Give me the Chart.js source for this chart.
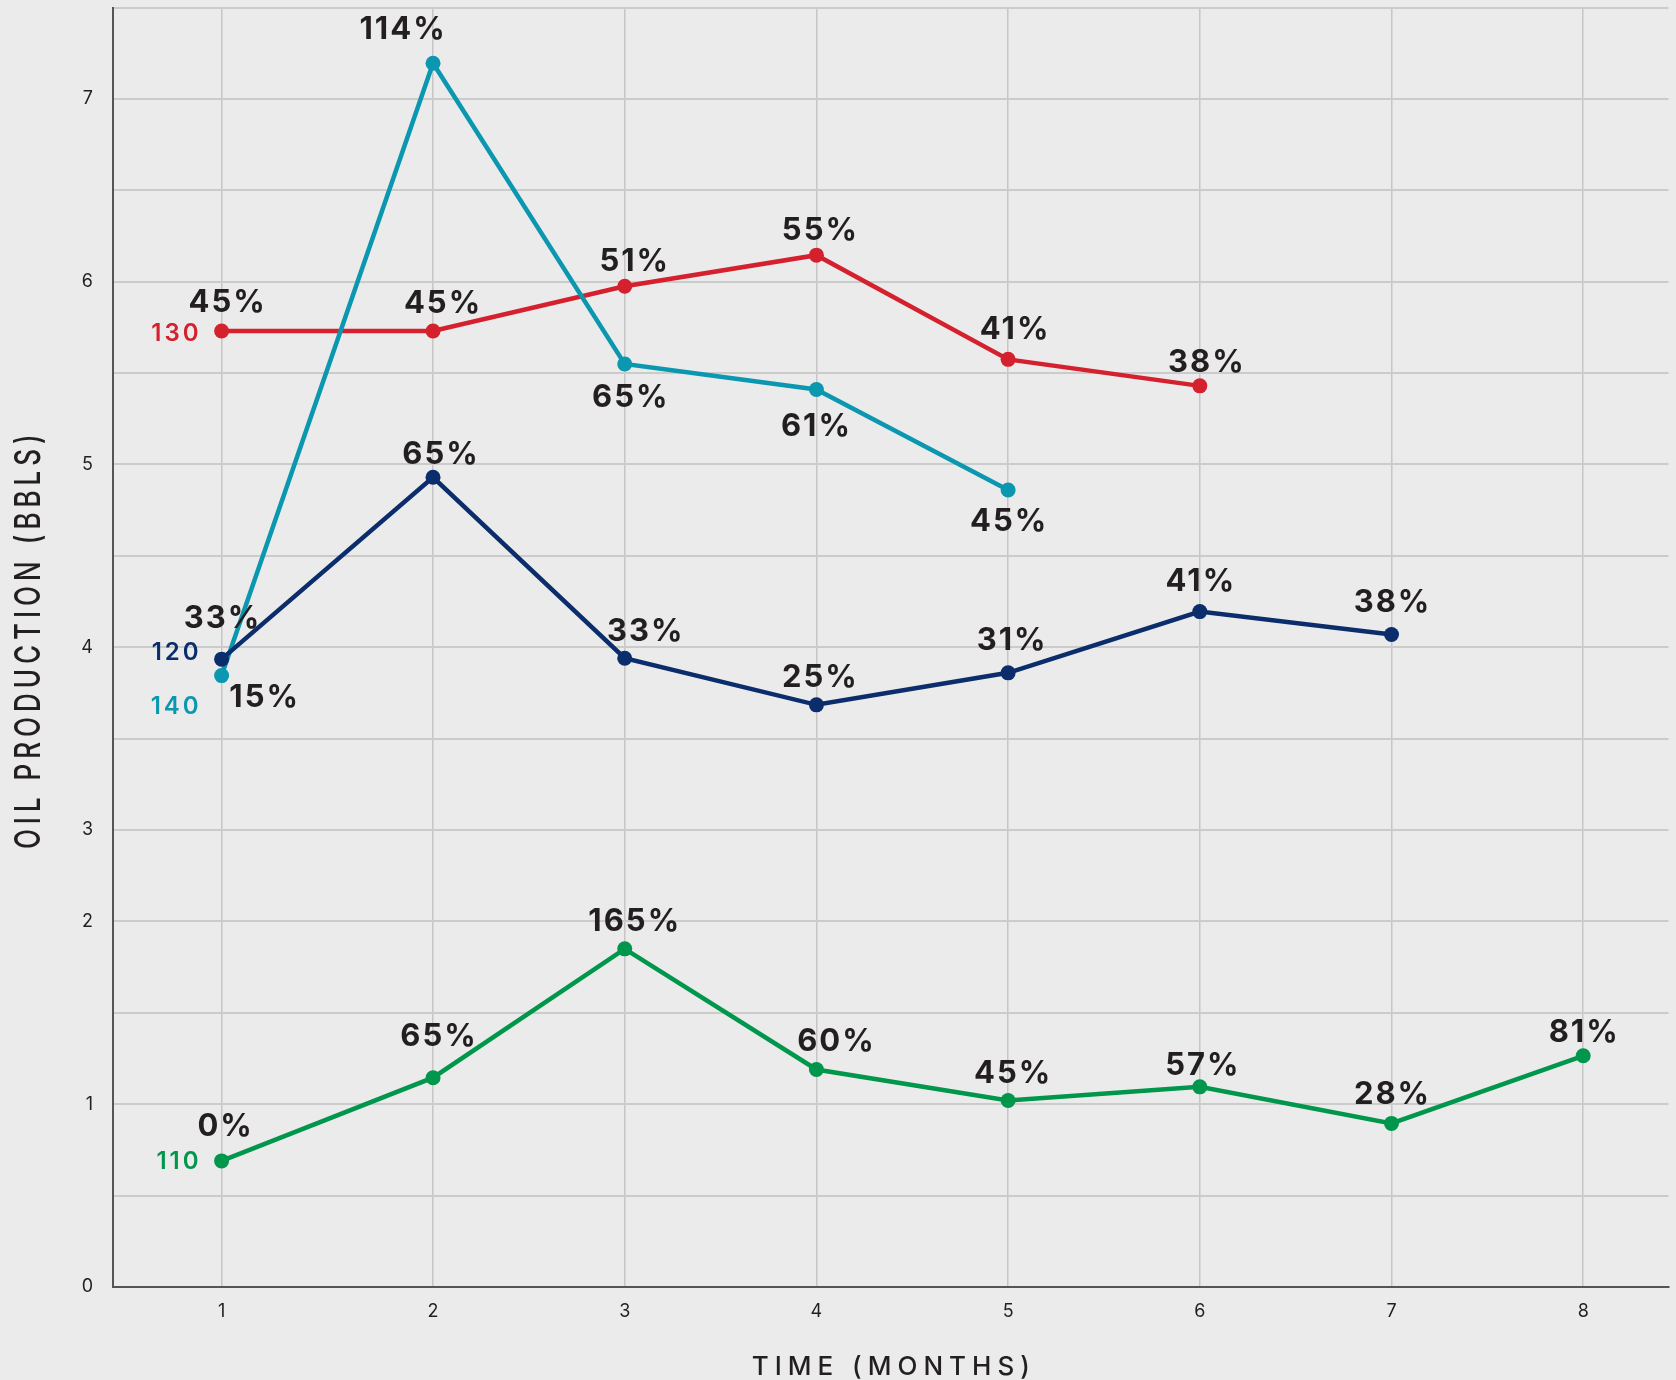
<!DOCTYPE html>
<html>
<head>
<meta charset="utf-8">
<script src="https://cdn.jsdelivr.net/npm/chart.js@4.4.1/dist/chart.umd.min.js"></script>
<style>
  html, body { margin: 0; padding: 0; background: #ebebeb; overflow: hidden; }
  #wrap { width: 1676px; height: 1380px; position: relative; }
</style>
</head>
<body>
<div id="wrap"><canvas id="oilChart"></canvas></div>
<script>
// months on the x axis; month 1 sits a little left of the regular step in the original
const months = ["1", "2", "3", "4", "5", "6", "7", "8"];
const monthTickPos = [0.897, 2, 3, 4, 5, 6, 7, 8];

// y axis runs in grid steps, only some of them carry a label
const yTickLabels = ["0", "", "1", "", "2", "3", "", "4", "", "5", "", "6", "", "7", ""];

// production per well (in grid steps) and the % label shown at each point
const well110 = [1.38, 2.29, 3.70, 2.38, 2.04, 2.19, 1.79, 2.53];
const well110Pct = ["0%", "65%", "165%", "60%", "45%", "57%", "28%", "81%"];
const well120 = [6.87, 8.86, 6.88, 6.37, 6.72, 7.39, 7.14];
const well120Pct = ["33%", "65%", "33%", "25%", "31%", "41%", "38%"];
const well130 = [10.46, 10.46, 10.95, 11.29, 10.15, 9.86];
const well130Pct = ["45%", "45%", "51%", "55%", "41%", "38%"];
const well140 = [6.69, 13.39, 10.10, 9.82, 8.72];
const well140Pct = ["15%", "114%", "65%", "61%", "45%"];

const INK = "#231f20";
const AXIS = "#555555";

// where each % label sits relative to its point (px)
const offsets110 = [[3, -36], [5, -43], [9, -29], [19, -29], [4, -29], [2, -23], [0, -30], [0, -25]];
const offsets120 = [[0, -42], [7, -24], [20, -28], [3, -29], [3, -34], [0, -32], [0, -33]];
const offsets130 = [[5, -30], [9, -29], [9, -26], [3, -26], [6, -31], [6, -25]];
const offsets140 = [[42, 20], [-31, -35], [5, 32], [-1, 35], [0, 30]];

function series(name, values, pct, color, offs, tagDy) {
  return {
    label: name,
    data: values.map((v, i) => ({ x: monthTickPos[i], y: v })),
    pctLabels: pct,
    labelOffsets: offs,
    tagDy: tagDy,
    borderColor: color,
    backgroundColor: color,
    borderWidth: 4.5,
    pointRadius: 7.5,
    pointHoverRadius: 7.5,
    pointBorderWidth: 0,
    tension: 0,
  };
}

// drop the automatic label padding so the plot fills the canvas like the original
function noPad(scale) {
  scale.paddingTop = 0;
  scale.paddingBottom = 0;
  scale.paddingLeft = 0;
  scale.paddingRight = 0;
}

const labelPlugin = {
  id: "wellLabels",
  beforeDraw(chart) {
    const ctx = chart.ctx;
    ctx.save();
    ctx.fillStyle = "#ebebeb";
    ctx.fillRect(0, 0, chart.width, chart.height);
    ctx.restore();
  },
  afterDatasetsDraw(chart) {
    const ctx = chart.ctx;
    chart.data.datasets.forEach((ds, di) => {
      const meta = chart.getDatasetMeta(di);
      ctx.save();
      ctx.fillStyle = INK;
      ctx.font = "700 31px Inter";
      ctx.letterSpacing = "2px";
      ctx.textAlign = "center";
      ctx.textBaseline = "alphabetic";
      meta.data.forEach((pt, i) => {
        const [dx, dy] = ds.labelOffsets[i];
        ctx.fillText(ds.pctLabels[i], pt.x + dx + 1, pt.y + dy + 11);
      });
      // well name next to the first point
      const first = meta.data[0];
      ctx.fillStyle = ds.borderColor;
      ctx.font = "600 24px Inter";
      ctx.letterSpacing = "3px";
      ctx.textAlign = "right";
      ctx.fillText(ds.label, first.x - 20, first.y + ds.tagDy + 8.5);
      ctx.restore();
    });
  },
  afterDraw(chart) {
    const ctx = chart.ctx;
    const area = chart.chartArea;
    ctx.save();
    ctx.fillStyle = INK;
    ctx.font = "500 26px Inter";
    ctx.letterSpacing = "6px";
    ctx.textAlign = "center";
    ctx.textBaseline = "alphabetic";
    ctx.fillText("TIME (MONTHS)", (area.left + area.right) / 2 + 3, 1375);
    ctx.restore();

    ctx.save();
    ctx.fillStyle = INK;
    ctx.font = "500 26px Inter";
    ctx.letterSpacing = "5px";
    ctx.textAlign = "center";
    ctx.textBaseline = "middle";
    ctx.translate(29, (area.top + area.bottom) / 2 - 6);
    ctx.rotate(-Math.PI / 2);
    ctx.scale(1, 1.35);
    ctx.fillText("OIL PRODUCTION (BBLS)", 2, 0);
    ctx.restore();
  },
};

const ctx = document.getElementById("oilChart").getContext("2d");
new Chart(ctx, {
  type: "line",
  data: {
    datasets: [
      series("120", well120, well120Pct, "#0b2d6b", offsets120, -8),
      series("140", well140, well140Pct, "#0a97af", offsets140, 30),
      series("130", well130, well130Pct, "#d5202e", offsets130, 1),
      series("110", well110, well110Pct, "#00964b", offsets110, 0),
    ],
  },
  options: {
    responsive: true,
    maintainAspectRatio: false,
    animation: false,
    layout: { padding: { top: 7, right: 0, bottom: 0, left: 0 } },
    plugins: {
      legend: { display: false },
      tooltip: { enabled: false },
    },
    scales: {
      x: {
        type: "linear",
        min: 0.3305,
        max: 8.445,
        afterBuildTicks: (scale) => {
          scale.ticks = monthTickPos.map((v) => ({ value: v }));
        },
        afterFit: (scale) => { scale.height = 93; noPad(scale); },
        ticks: {
          autoSkip: false,
          maxRotation: 0,
          padding: 14,
          color: INK,
          font: { family: "Inter", size: 18 },
          callback: (v, i) => months[i],
        },
        grid: { color: "#c6c6c6", lineWidth: 1.5, drawTicks: false },
        border: { display: true, color: AXIS, width: 2 },
      },
      y: {
        type: "linear",
        min: 0,
        max: 14,
        afterFit: (scale) => { scale.width = 113; noPad(scale); },
        ticks: {
          stepSize: 1,
          autoSkip: false,
          padding: 20,
          color: INK,
          font: { family: "Inter", size: 18 },
          callback: (v) => yTickLabels[Math.round(v)],
        },
        grid: { color: "#cbcbcb", lineWidth: 2, drawTicks: false },
        border: { display: true, color: AXIS, width: 2 },
      },
    },
  },
  plugins: [labelPlugin],
});
</script>
</body>
</html>
